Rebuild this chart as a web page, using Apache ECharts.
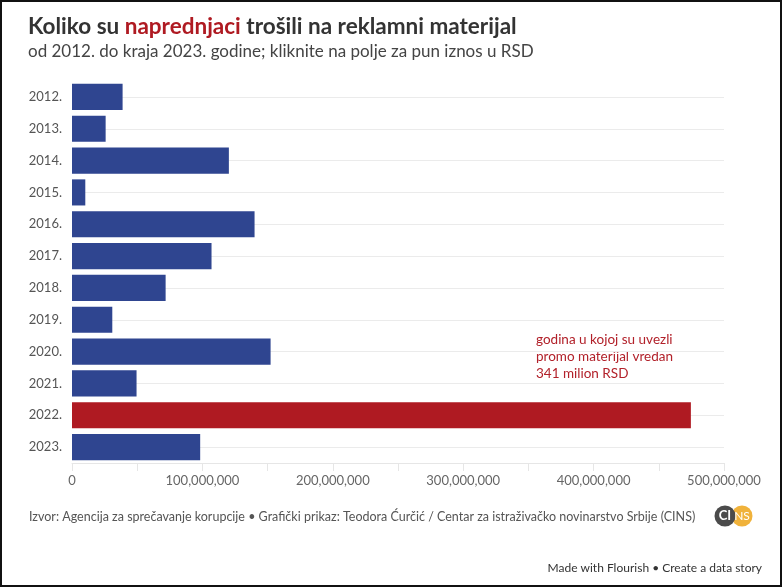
<!DOCTYPE html>
<html lang="sr" style="width: 100%;height:100%">
    <head>
        <meta charset="UTF-8">
        <title>Koliko su naprednjaci trošili na reklamni materijal</title>
        <script src="https://cdn.jsdelivr.net/npm/echarts@6/dist/echarts.min.js"></script>
        <style type="text/css">
            html, body { margin: 0; padding: 0; background: #fff; }
            #wrap { position: relative; width: 782px; height: 587px; }
            #chart { position: absolute; left: 0; top: 0; width: 782px; height: 587px; }
            #frame {
                position: absolute; left: 0; top: 0; width: 782px; height: 587px;
                box-sizing: border-box; border: 2px solid #111; pointer-events: none;
            }
        </style>
    </head>
    <body>
        <div id="wrap">
            <div id="chart"></div>
            <div id="frame"></div>
        </div>
        <script>
            // godine i iznosi (RSD), procitano sa grafikona
            const years = ['2012.', '2013.', '2014.', '2015.', '2016.', '2017.',
                           '2018.', '2019.', '2020.', '2021.', '2022.', '2023.'];
            const spending = [38800000, 25800000, 120300000, 10200000, 140000000, 107000000,
                              71800000, 30900000, 152300000, 49500000, 474600000, 98300000];
            const highlightYear = '2022.';
            const axisMin = 0;
            const axisMax = 500000000;
            const axisStep = 100000000;

            const noteLines = ['godina u kojoj su uvezli', 'promo materijal vredan', '341 milion RSD'];

            const FONT = 'Lato, "Noto Sans", sans-serif';
            const BLUE = '#2f4590';
            const RED = '#af1a22';

            const barData = [];
            for (let i = 0; i < years.length; i++) {
                barData.push({
                    value: spending[i],
                    itemStyle: { color: years[i] === highlightYear ? RED : BLUE }
                });
            }

            const myChart = echarts.init(document.getElementById('chart'));

            const option = {
                backgroundColor: '#fff',
                animation: false,
                title: {
                    text: '{a|Koliko su }{r|naprednjaci}{a| trošili na reklamni materijal}',
                    subtext: 'od 2012. do kraja 2023. godine; kliknite na polje za pun iznos u RSD',
                    left: 23,
                    top: 10,
                    itemGap: 5,
                    textStyle: {
                        rich: {
                            a: { fontFamily: FONT, fontSize: 22.5, fontWeight: 'bold', color: '#333' },
                            r: { fontFamily: FONT, fontSize: 22.5, fontWeight: 'bold', color: RED }
                        }
                    },
                    subtextStyle: { fontFamily: FONT, fontSize: 17, color: '#444' }
                },
                grid: {
                    left: 72,
                    right: 58,
                    top: 81,
                    bottom: 124
                },
                xAxis: {
                    type: 'value',
                    min: axisMin,
                    max: axisMax,
                    interval: axisStep,
                    axisLine: { show: true, lineStyle: { color: '#e6e6e6' } },
                    axisTick: { show: true, length: 8, lineStyle: { color: '#e6e6e6' } },
                    minorTick: { show: true, splitNumber: 2, length: 8, lineStyle: { color: '#e6e6e6' } },
                    splitLine: { show: false },
                    axisLabel: {
                        margin: 11,
                        fontFamily: FONT,
                        fontSize: 13,
                        color: '#666',
                        formatter: function (v) {
                            return v.toString().replace(/\B(?=(\d{3})+(?!\d))/g, ',');
                        }
                    }
                },
                yAxis: {
                    type: 'category',
                    data: years,
                    inverse: true,
                    axisLine: { show: false },
                    axisTick: { show: false },
                    splitLine: {
                        show: true,
                        alignWithLabel: true,
                        lineStyle: { color: '#ebebeb' }
                    },
                    axisLabel: {
                        margin: 10,
                        fontFamily: FONT,
                        fontSize: 13,
                        color: '#555'
                    }
                },
                series: [
                    {
                        type: 'bar',
                        data: barData,
                        barCategoryGap: '18%',
                        z: 3
                    }
                ],
                graphic: [
                    {
                        type: 'text',
                        left: 536,
                        top: 331,
                        style: {
                            text: noteLines.join('\n'),
                            fontFamily: FONT,
                            fontSize: 13.5,
                            lineHeight: 17,
                            fill: '#b2212a'
                        }
                    },
                    {
                        type: 'text',
                        left: 29,
                        top: 510,
                        style: {
                            text: 'Izvor: Agencija za sprečavanje korupcije • Grafički prikaz: Teodora Ćurčić / Centar za istraživačko novinarstvo Srbije (CINS)',
                            fontFamily: FONT,
                            fontSize: 12.5,
                            fill: '#555'
                        }
                    },
                    {
                        type: 'circle',
                        shape: { cx: 742, cy: 516, r: 10.5 },
                        style: { fill: '#f0b23b' }
                    },
                    {
                        type: 'circle',
                        shape: { cx: 725, cy: 516, r: 10.5 },
                        style: { fill: '#4b4b4b' }
                    },
                    {
                        type: 'text',
                        x: 725,
                        y: 516,
                        style: {
                            text: 'CI',
                            fontFamily: FONT,
                            fontSize: 13,
                            fontWeight: 'bold',
                            fill: '#fff',
                            align: 'center',
                            verticalAlign: 'middle'
                        }
                    },
                    {
                        type: 'text',
                        x: 742,
                        y: 516,
                        style: {
                            text: 'NS',
                            fontFamily: FONT,
                            fontSize: 12,
                            fill: '#fff',
                            align: 'center',
                            verticalAlign: 'middle'
                        }
                    },
                    {
                        type: 'text',
                        right: 20,
                        top: 562,
                        style: {
                            text: 'Made with Flourish • Create a data story',
                            fontFamily: FONT,
                            fontSize: 12,
                            fill: '#333'
                        }
                    }
                ]
            };

            myChart.setOption(option);
        </script>
    </body>
</html>
